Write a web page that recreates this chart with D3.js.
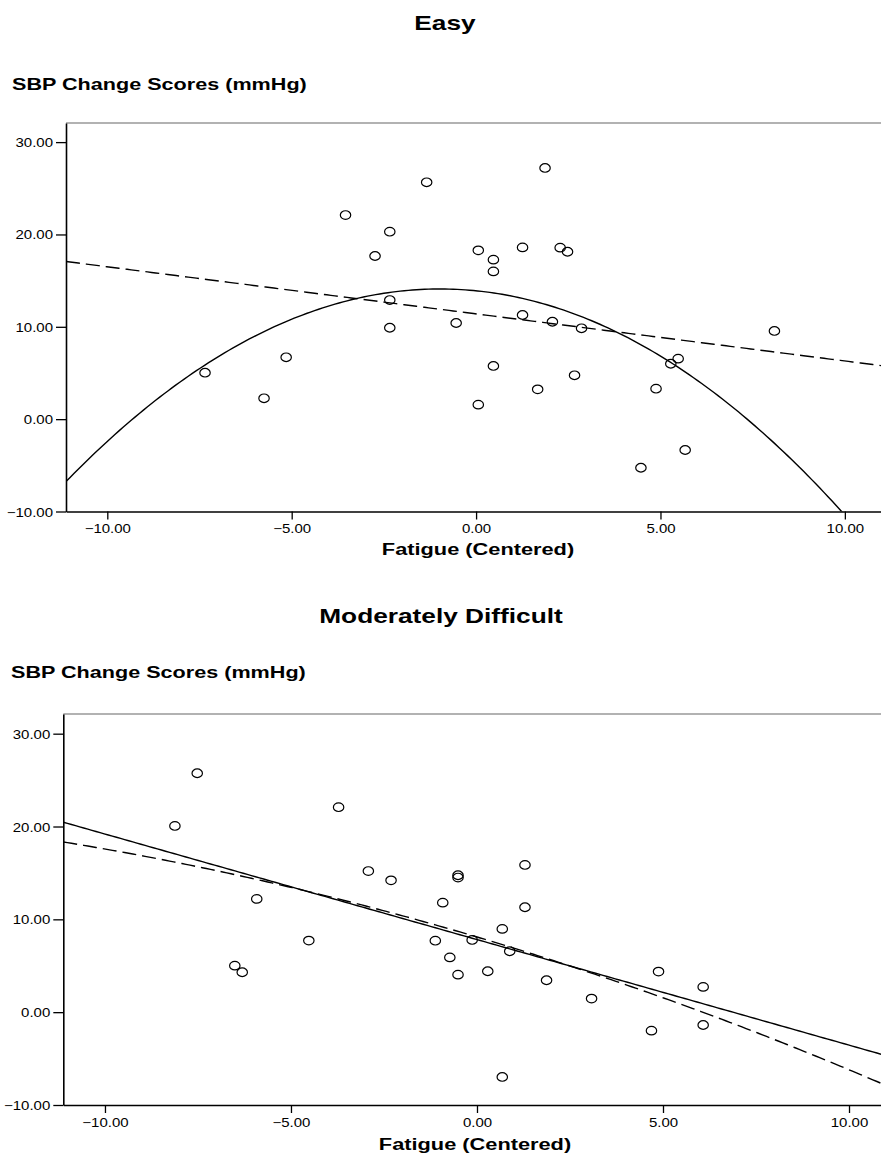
<!DOCTYPE html>
<html><head><meta charset="utf-8">
<script src="https://cdn.jsdelivr.net/npm/d3@7"></script>
<style>
body{margin:0;background:#fff}
svg{display:block}
text{font-family:"Liberation Sans",Arial,Helvetica,sans-serif;fill:#000}
</style>
</head><body>
<svg id="chart" width="881" height="1155"></svg>
<script>
// ---------------- DATA ----------------
const panelTitles = ["Easy", "Moderately Difficult"];
const yAxisLabel = "SBP Change Scores (mmHg)";
const xAxisLabel = "Fatigue (Centered)";
const xTickValues = [-10, -5, 0, 5, 10];
const yTickValues = [-10, 0, 10, 20, 30];

const easyFatigue = [-7.35, -5.75, -5.15, -3.54, -2.74, -2.34, -2.34, -2.34, -1.34, 1.87,
  0.06, 0.47, 0.47, 1.26, 2.28, 2.48, -0.54, 1.26, 2.07, 2.86,
  8.09, 5.48, 5.28, 0.47, 2.67, 1.67, 4.88, 0.06, 5.67, 4.47];
const easySBP = [5.03, 2.26, 6.70, 22.1, 17.67, 20.3, 12.9, 9.9, 25.65, 27.2,
  18.28, 17.27, 16.0, 18.6, 18.57, 18.13, 10.41, 11.28, 10.55, 9.84,
  9.55, 6.55, 6.0, 5.76, 4.75, 3.23, 3.3, 1.57, -3.34, -5.26];
// fitted curves: [intercept, linear, quadratic]
const easyDashedFit = [11.4, -0.51, 0];
const easySolidFit = [13.90, -0.399, -0.203];

const modFatigue = [-8.12, -7.52, -3.72, -5.92, -6.51, -6.31, -4.52, -2.92, -2.31, -0.92,
  -1.12, -0.73, -0.51, -0.51, -0.51, 1.29, 1.29, 0.68, -0.13, 0.88,
  0.29, 1.87, 3.08, 4.88, 6.08, 6.08, 4.69, 0.68];
const modSBP = [20.06, 25.74, 22.08, 12.2, 5.01, 4.3, 7.71, 15.2, 14.2, 11.8,
  7.7, 5.9, 14.75, 14.5, 4.04, 15.86, 11.3, 8.97, 7.78, 6.56,
  4.41, 3.44, 1.46, 4.37, 2.72, -1.38, -1.99, -6.98];
const modSolidFit = [7.82, -1.137, 0];
const modDashedFit = [8.1, -1.189, -0.02413];

// ---------------- LAYOUT ----------------
const panels = [
  { title: panelTitles[0], xs: easyFatigue, ys: easySBP, solid: easySolidFit, dashed: easyDashedFit,
    left: 66, right: 881, top: 123, bottom: 511.5, xDom: [-11.12, 10.98], yDom: [-10, 32.07],
    titleX: 445, titleY: 30, yLabX: 12, yLabY: 89.5, xLabX: 478, xLabY: 555 },
  { title: panelTitles[1], xs: modFatigue, ys: modSBP, solid: modSolidFit, dashed: modDashedFit,
    left: 63.3, right: 881, top: 714, bottom: 1105, xDom: [-11.12, 10.86], yDom: [-10, 32.12],
    titleX: 441, titleY: 623, yLabX: 11, yLabY: 678, xLabX: 475, xLabY: 1150 }
];

const svg = d3.select("#chart");
const fmt = d3.format(".2f");
const SX = 1.2;

function stretchedText(g, x, y, str, size, weight, anchor, sx) {
  return g.append("text")
    .attr("transform", `translate(${x},${y}) scale(${sx},1)`)
    .attr("text-anchor", anchor)
    .style("font-size", size + "px")
    .style("font-weight", weight)
    .text(str);
}

panels.forEach((p, i) => {
  const g = svg.append("g");
  const x = d3.scaleLinear().domain(p.xDom).range([p.left, p.right]);
  const y = d3.scaleLinear().domain(p.yDom).range([p.bottom, p.top]);

  const clipId = "clip" + i;
  svg.append("clipPath").attr("id", clipId).append("rect")
    .attr("x", p.left).attr("y", p.top).attr("width", p.right - p.left + 10).attr("height", p.bottom - p.top);

  // frame top (grey)
  g.append("line").attr("x1", p.left).attr("x2", p.right + 5).attr("y1", p.top).attr("y2", p.top)
    .attr("stroke", "#666").attr("stroke-width", 1.2);

  // y axis
  const yAxis = d3.axisLeft(y).tickValues(yTickValues).tickFormat(fmt).tickSize(10).tickSizeOuter(0).tickPadding(3);
  const ya = g.append("g").attr("transform", `translate(${p.left},0)`).call(yAxis);
  ya.select(".domain").attr("stroke", "#000").attr("stroke-width", 1.6);
  ya.selectAll(".tick line").attr("stroke", "#000").attr("stroke-width", 1.3);
  ya.selectAll(".tick text").each(function() {
    const t = d3.select(this);
    const xx = +t.attr("x");
    t.attr("x", null).attr("dy", null)
      .attr("transform", `translate(${xx},4.5) scale(${SX},1)`)
      .style("font-size", "12.5px").style("font-family", '"Liberation Sans",Arial,sans-serif').attr("fill", "#000");
  });

  // x axis
  const xAxis = d3.axisBottom(x).tickValues(xTickValues).tickFormat(fmt).tickSize(8).tickSizeOuter(0).tickPadding(3);
  const xa = g.append("g").attr("transform", `translate(0,${p.bottom})`).call(xAxis);
  xa.select(".domain").attr("stroke", "#000").attr("stroke-width", 1.6);
  xa.selectAll(".tick line").attr("stroke", "#000").attr("stroke-width", 1.3);
  xa.selectAll(".tick text").each(function() {
    const t = d3.select(this);
    t.attr("y", null).attr("dy", null)
      .attr("transform", `translate(0,21.5) scale(${SX},1)`)
      .style("font-size", "12.5px").style("font-family", '"Liberation Sans",Arial,sans-serif').attr("fill", "#000");
  });

  // curves
  const plot = g.append("g").attr("clip-path", `url(#${clipId})`);
  const samples = d3.range(0, 201).map(k => p.xDom[0] + (p.xDom[1] - p.xDom[0]) * k / 200);
  const fitVal = (c, v) => c[0] + c[1] * v + c[2] * v * v;
  const line = c => d3.line().x(v => x(v)).y(v => y(fitVal(c, v)))(samples);
  plot.append("path").attr("d", line(p.dashed)).attr("fill", "none").attr("stroke", "#000")
    .attr("stroke-width", 1.4).attr("stroke-dasharray", "14,6");
  plot.append("path").attr("d", line(p.solid)).attr("fill", "none").attr("stroke", "#000")
    .attr("stroke-width", 1.4);

  // points
  plot.selectAll("ellipse").data(p.xs.map((v, k) => [v, p.ys[k]])).enter().append("ellipse")
    .attr("cx", d => x(d[0])).attr("cy", d => y(d[1]))
    .attr("rx", 5.2).attr("ry", 4.3)
    .attr("fill", "none").attr("stroke", "#000").attr("stroke-width", 1.2);

  // texts
  stretchedText(g, p.titleX, p.titleY, p.title, 21, "bold", "middle", 1.25);
  stretchedText(g, p.yLabX, p.yLabY, yAxisLabel, 16, "bold", "start", 1.35);
  stretchedText(g, p.xLabX, p.xLabY, xAxisLabel, 16.5, "bold", "middle", 1.32);
});
</script>
</body></html>
